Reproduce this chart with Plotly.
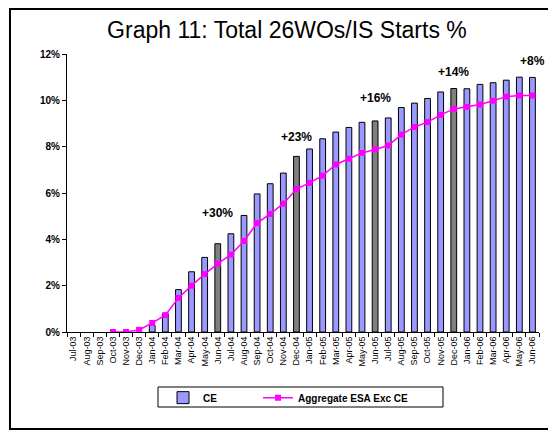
import plotly.graph_objects as go

months = ["Jul-03", "Aug-03", "Sep-03", "Oct-03", "Nov-03", "Dec-03",
          "Jan-04", "Feb-04", "Mar-04", "Apr-04", "May-04", "Jun-04",
          "Jul-04", "Aug-04", "Sep-04", "Oct-04", "Nov-04", "Dec-04",
          "Jan-05", "Feb-05", "Mar-05", "Apr-05", "May-05", "Jun-05",
          "Jul-05", "Aug-05", "Sep-05", "Oct-05", "Nov-05", "Dec-05",
          "Jan-06", "Feb-06", "Mar-06", "Apr-06", "May-06", "Jun-06"]

ce = [None, None, None, None, None, None,
      0.28, 0.79, 1.83, 2.60, 3.22, 3.81,
      4.24, 5.03, 5.96, 6.40, 6.86, 7.58,
      7.90, 8.34, 8.63, 8.83, 9.05, 9.11,
      9.24, 9.69, 9.88, 10.08, 10.36, 10.51,
      10.50, 10.69, 10.76, 10.87, 11.00, 10.99]

esa_exc_ce = [None, None, None, 0.0, 0.0, 0.09,
              0.39, 0.73, 1.47, 2.00, 2.50, 2.95,
              3.34, 3.93, 4.70, 5.10, 5.54, 6.17,
              6.44, 6.75, 7.23, 7.48, 7.73, 7.88,
              8.05, 8.52, 8.85, 9.06, 9.37, 9.63,
              9.72, 9.82, 9.98, 10.16, 10.21, 10.21]

# half-year points shown in grey, with growth labels above
highlight = ["Jun-04", "Dec-04", "Jun-05", "Dec-05"]
growth_months = ["Jun-04", "Dec-04", "Jun-05", "Dec-05", "Jun-06"]
growth_labels = ["+30%", "+23%", "+16%", "+14%", "+8%"]
growth_y = [5.15, 8.43, 10.1, 11.23, 11.7]

FONT = "Liberation Sans, Arial, sans-serif"
bar_colors = ["#7f7f7f" if m in highlight else "#9999ff" for m in months]

fig = go.Figure()
fig.add_trace(go.Bar(
    x=months, y=ce, name="CE", legend="legend",
    marker=dict(color=bar_colors, line=dict(color="black", width=1)),
))
fig.add_trace(go.Scatter(
    x=months, y=esa_exc_ce, name="Aggregate ESA Exc CE", legend="legend2",
    mode="lines+markers",
    line=dict(color="#ff00ff", width=1.5),
    marker=dict(symbol="square", size=6, color="#ff00ff"),
))

for m, txt, yv in zip(growth_months, growth_labels, growth_y):
    fig.add_annotation(x=m, y=yv, text="<b>%s</b>" % txt, showarrow=False,
                       font=dict(family=FONT, size=12, color="black"))

# outer frame of the chart, and the box round the legend
fig.add_shape(type="rect", xref="paper", yref="paper",
              x0=-0.1208, x1=1.1, y0=-0.349, y1=1.162,
              line=dict(color="black", width=2))
fig.add_shape(type="rect", xref="paper", yref="paper",
              x0=0.1928, x1=0.7966, y0=-0.2698, y1=-0.1978,
              line=dict(color="black", width=1))

legend_style = dict(orientation="h", xanchor="left", y=-0.184, yanchor="top",
                    borderwidth=0, bgcolor="rgba(0,0,0,0)",
                    font=dict(family=FONT, size=10, color="black", weight="bold"))

# page body has an 8px margin, so the figure is 8px smaller than the window
fig.update_layout(
    width=548, height=423,
    margin=dict(l=59, r=17, t=46, b=99),
    paper_bgcolor="white", plot_bgcolor="white",
    font=dict(family=FONT, color="black"),
    title=dict(text="Graph 11: Total 26WOs/IS Starts %", x=0.509, xanchor="center",
               y=0.948, yanchor="middle", font=dict(family=FONT, size=23, color="black")),
    bargap=0.56,
    showlegend=True,
    legend=dict(legend_style, x=0.2034),
    legend2=dict(legend_style, x=0.4047),
)
fig.update_xaxes(type="category", range=[-0.5, len(months) - 0.5],
                 showline=True, linecolor="black", linewidth=1,
                 ticks="outside", tickson="boundaries", ticklen=4, tickcolor="black",
                 tickangle=-90, tickfont=dict(family=FONT, size=9, color="black"),
                 showgrid=False)
fig.update_yaxes(range=[0, 12], dtick=2, ticksuffix="%", showline=True,
                 linecolor="black", linewidth=1, ticks="outside", ticklen=4,
                 tickcolor="black", showgrid=False, zeroline=False,
                 tickfont=dict(family=FONT, size=10, color="black", weight="bold"))

fig.write_html("out.html")
